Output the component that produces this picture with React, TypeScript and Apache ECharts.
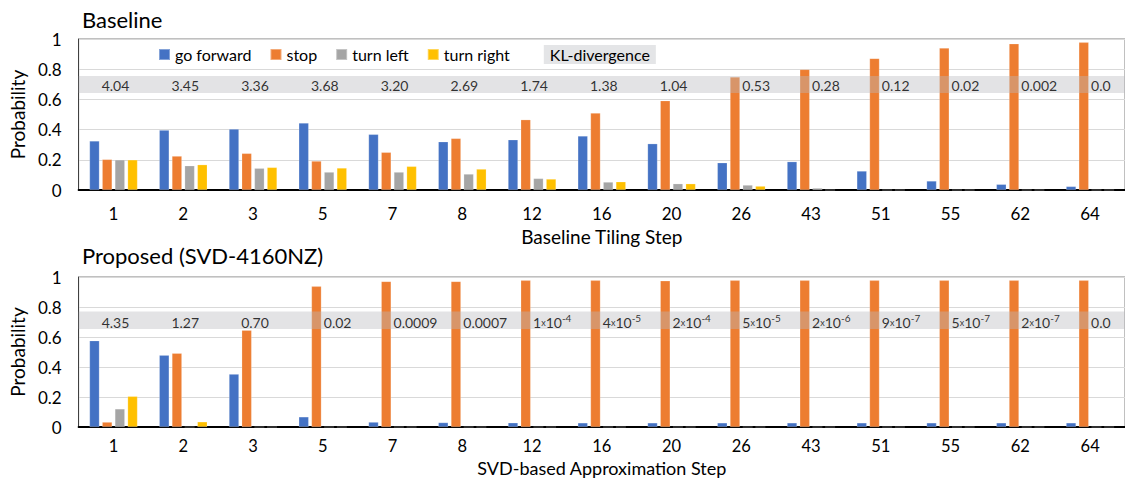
import React, { useEffect, useRef } from "react";
import * as echarts from "echarts";

const topCategories = ["1", "2", "3", "5", "7", "8", "12", "16", "20", "26", "43", "51", "55", "62", "64"];
const bottomCategories = ["1", "2", "3", "5", "7", "8", "12", "16", "20", "26", "43", "51", "55", "62", "64"];

const seriesNames = ["go forward", "stop", "turn left", "turn right"];
const seriesColors = ["#4472C4", "#ED7D31", "#A5A5A5", "#FFC000"];

const topGoForward = [0.325, 0.397, 0.404, 0.444, 0.369, 0.32, 0.333, 0.358, 0.307, 0.181, 0.188, 0.126, 0.06, 0.038, 0.024];
const topStop = [0.203, 0.225, 0.243, 0.192, 0.25, 0.342, 0.466, 0.51, 0.592, 0.748, 0.799, 0.872, 0.94, 0.969, 0.978];
const topTurnLeft = [0.2, 0.161, 0.144, 0.119, 0.119, 0.106, 0.077, 0.053, 0.042, 0.033, 0.013, 0, 0, 0, 0];
const topTurnRight = [0.2, 0.168, 0.15, 0.146, 0.157, 0.139, 0.073, 0.055, 0.042, 0.026, 0, 0, 0, 0, 0];
const topKL = ["4.04", "3.45", "3.36", "3.68", "3.20", "2.69", "1.74", "1.38", "1.04", "0.53", "0.28", "0.12", "0.02", "0.002", "0.0"];

const bottomGoForward = [0.576, 0.479, 0.353, 0.068, 0.033, 0.03, 0.028, 0.028, 0.028, 0.028, 0.028, 0.028, 0.028, 0.028, 0.028];
const bottomStop = [0.033, 0.492, 0.646, 0.938, 0.971, 0.971, 0.978, 0.978, 0.975, 0.978, 0.978, 0.978, 0.978, 0.978, 0.978];
const bottomTurnLeft = [0.121, 0, 0, 0, 0, 0, 0, 0, 0, 0, 0, 0, 0, 0, 0];
const bottomTurnRight = [0.205, 0.035, 0, 0, 0, 0, 0, 0, 0, 0, 0, 0, 0, 0, 0];
const bottomKL = ["4.35", "1.27", "0.70", "0.02", "0.0009", "0.0007", "1x10^-4", "4x10^-5", "2x10^-4", "5x10^-5", "2x10^-6", "9x10^-7", "5x10^-7", "2x10^-7", "0.0"];

const topBand = [0.642, 0.755];
const bottomBand = [0.653, 0.77];
const topLabelY = 0.69;
const bottomLabelY = 0.70;
const topCenteredCount = 9;
const bottomCenteredCount = 3;

const FONT = "Lato";

function toRich(s: string): string {
  const m = s.match(/^(\d+)x10\^(-?\d+)$/);
  if (!m) return `{n|${s}}`;
  return `{n|${m[1]}}{x|x}{n|10}{s|${m[2]}}`;
}

function klData(labels: string[], y: number, centered: number) {
  return labels.map((t, i) => ({
    value: [i, y],
    label: {
      formatter: toRich(t),
      align: i < centered ? "center" : "left",
      offset: i < centered ? [2, 0] : [1, 0],
    },
  }));
}

export default function App() {
  const ref = useRef<HTMLDivElement>(null);
  useEffect(() => {
    if (!ref.current) return;
    const chart = echarts.init(ref.current, undefined, { renderer: "svg" });

    const richStyles = {
      n: { fontFamily: FONT, fontSize: 14, color: "#000", lineHeight: 18 },
      x: { fontFamily: FONT, fontSize: 9, color: "#000", lineHeight: 18 },
      s: { fontFamily: FONT, fontSize: 10, color: "#000", verticalAlign: "top", lineHeight: 12 },
    };

    const makeBars = (idx: number, arrs: number[][]) =>
      arrs.map((arr, k) => ({
        name: seriesNames[k],
        type: "bar",
        xAxisIndex: idx,
        yAxisIndex: idx,
        data: arr,
        barWidth: 10,
        barGap: "27%",
        z: 2,
        itemStyle: { color: seriesColors[k], borderColor: "rgba(255,255,255,0.35)", borderWidth: 0.6 },
      }));

    const makeKL = (idx: number, labels: string[], y: number, centered: number, band: number[], name: string) => ({
      name,
      type: "scatter",
      xAxisIndex: idx,
      yAxisIndex: idx,
      symbolSize: 1,
      itemStyle: { color: "rgba(0,0,0,0)" },
      z: 6,
      label: {
        show: true,
        position: "inside",
        verticalAlign: "middle",
        rich: richStyles,
      },
      data: klData(labels, y, centered),
      markArea: {
        z: 5,
        silent: true,
        itemStyle: { color: "#b9babd", opacity: 0.4 },
        data: [[{ yAxis: band[0] }, { yAxis: band[1] }]],
      },
    });

    const xAxisBase = (idx: number, data: string[], name: string, gap: number, margin: number, nameSize: number, labelSize: number) => ({
      type: "category",
      gridIndex: idx,
      data,
      name,
      nameLocation: "middle",
      nameGap: gap,
      nameTextStyle: { fontFamily: FONT, fontSize: nameSize, color: "#000", lineHeight: nameSize },
      axisTick: { show: false },
      axisLine: { show: true, lineStyle: { color: "#000", width: 2 } },
      axisLabel: { fontFamily: FONT, fontSize: labelSize, color: "#000", margin, interval: 0, lineHeight: 16 },
    });

    const yAxisBase = (idx: number) => ({
      type: "value",
      gridIndex: idx,
      min: 0,
      max: 1,
      interval: 0.2,
      name: "Probability",
      nameLocation: "middle",
      nameGap: 46,
      nameTextStyle: { fontFamily: FONT, fontSize: 19, color: "#000" },
      axisLine: { show: true, lineStyle: { color: "#404040", width: 1 } },
      axisTick: { show: false },
      splitLine: { show: true, lineStyle: { color: "#d9d9d9", width: 1 } },
      axisLabel: {
        fontFamily: FONT,
        fontSize: 17,
        color: "#000",
        margin: 17,
        formatter: (v: number) => (v === 0 || v === 1 ? String(v) : v.toFixed(1)),
      },
    });

    chart.setOption({
      animation: false,
      backgroundColor: "#fff",
      title: [
        { text: "Baseline", left: 82, top: 8, padding: 0, textStyle: { fontFamily: FONT, fontSize: 22, fontWeight: "normal", color: "#000" } },
        { text: "Proposed (SVD-4160NZ)", left: 82, top: 244, padding: 0, textStyle: { fontFamily: FONT, fontSize: 22, fontWeight: "normal", color: "#000" } },
      ],
      legend: {
        left: 158,
        top: 45,
        padding: 0,
        itemGap: 18,
        itemWidth: 11,
        itemHeight: 11,
        textStyle: { fontFamily: FONT, fontSize: 16, color: "#000" },
        data: [
          { name: "go forward", icon: "rect" },
          { name: "stop", icon: "rect" },
          { name: "turn left", icon: "rect" },
          { name: "turn right", icon: "rect" },
          {
            name: "KL-divergence",
            icon: "none",
            textStyle: { backgroundColor: "#e4e5e7", padding: [2, 6, 1, 6] },
          },
        ],
      },
      grid: [
        { left: 75, top: 39, right: -9, bottom: 288, show: true, borderColor: "#808080", borderWidth: 1, containLabel: false },
        { left: 73, top: 277, right: -7, bottom: 50, show: true, borderColor: "#808080", borderWidth: 1, containLabel: false },
      ],
      xAxis: [
        xAxisBase(0, topCategories, "Baseline Tiling Step", 37, 15, 19, 17),
        xAxisBase(1, bottomCategories, "SVD-based Approximation Step", 32, 11, 18, 16.5),
      ],
      yAxis: [yAxisBase(0), yAxisBase(1)],
      series: [
        ...makeBars(0, [topGoForward, topStop, topTurnLeft, topTurnRight]),
        makeKL(0, topKL, topLabelY, topCenteredCount, topBand, "KL-divergence"),
        ...makeBars(1, [bottomGoForward, bottomStop, bottomTurnLeft, bottomTurnRight]),
        makeKL(1, bottomKL, bottomLabelY, bottomCenteredCount, bottomBand, "KL-divergence "),
      ],
    });

    return () => chart.dispose();
  }, []);

  return <div ref={ref} style={{ position: "fixed", left: 0, top: 0, width: 1125, height: 478 }} />;
}
